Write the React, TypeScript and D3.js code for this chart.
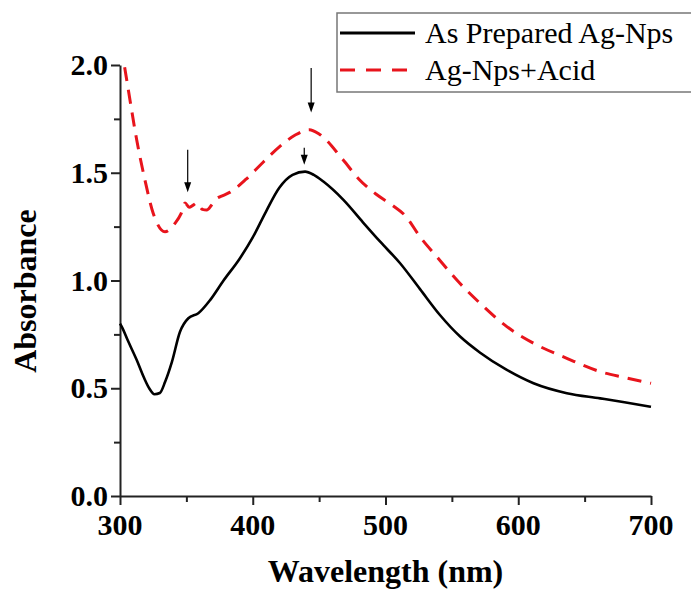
import React, { useRef, useEffect } from "react";
import * as d3 from "d3";

// wavelength (nm) / absorbance
const preparedWl = [300, 301.3, 306, 312.6, 318, 322, 326, 330, 334, 339, 345.2, 351.5, 359, 368, 378, 390, 400, 410, 420, 430, 439.4, 446, 453.2, 468.3, 483, 496, 511, 526, 541, 556.2, 571.3, 591.4, 611.5, 636.6, 661.7, 680, 700];
const preparedAbs = [0.8, 0.786, 0.72, 0.631, 0.55, 0.5, 0.472, 0.478, 0.53, 0.62, 0.762, 0.825, 0.848, 0.91, 1.0, 1.1, 1.2, 1.32, 1.43, 1.49, 1.505, 1.49, 1.459, 1.374, 1.27, 1.18, 1.08, 0.96, 0.84, 0.74, 0.665, 0.585, 0.523, 0.477, 0.453, 0.435, 0.414];

const acidWl = [303.5, 306.3, 312.6, 318.8, 325, 333.9, 341.4, 346, 349, 352, 355.2, 358, 362, 365.3, 369, 372.9, 376, 383, 395, 408, 420, 432, 442.6, 450, 468, 480, 493, 505, 515, 526, 538.7, 556, 571.3, 591.4, 611.5, 636.6, 661.7, 680, 700];
const acidAbs = [1.99, 1.884, 1.652, 1.466, 1.312, 1.226, 1.265, 1.31, 1.36, 1.34, 1.35, 1.36, 1.33, 1.327, 1.35, 1.381, 1.39, 1.41, 1.47, 1.55, 1.62, 1.675, 1.70, 1.68, 1.56, 1.47, 1.40, 1.35, 1.30, 1.203, 1.11, 0.987, 0.894, 0.786, 0.709, 0.639, 0.577, 0.55, 0.523];

// annotation arrows: wavelength, tail absorbance, head absorbance
const arrowWl = [351, 444, 438.8];
const arrowFrom = [1.607, 1.986, 1.616];
const arrowTo = [1.41, 1.78, 1.537];

const xTicks = [300, 400, 500, 600, 700];
const yTicks = [0.0, 0.5, 1.0, 1.5, 2.0];
const seriesNames = ["As Prepared Ag-Nps", "Ag-Nps+Acid"];

function App() {
  const svgRef = useRef<SVGSVGElement>(null);

  useEffect(() => {
    const width = 691;
    const height = 592;
    const margin = { top: 65, right: 40, bottom: 96, left: 120 };

    const svg = d3.select(svgRef.current);
    svg.selectAll("*").remove();
    svg.attr("width", width).attr("height", height);

    const x = d3.scaleLinear().domain([300, 700]).range([margin.left, width - margin.right]);
    const y = d3.scaleLinear().domain([0, 2]).range([height - margin.bottom, margin.top]);

    const font = "'Liberation Serif', 'Times New Roman', serif";

    // x axis
    const xAxis = svg.append("g")
      .attr("transform", `translate(0,${y(0)})`)
      .call(d3.axisBottom(x).tickValues(d3.range(300, 701, 50)).tickSize(0).tickFormat(() => ""));
    xAxis.select(".domain").attr("stroke", "#222").attr("stroke-width", 2);
    xAxis.selectAll(".tick").append("line")
      .attr("y2", (d: any) => (d % 100 === 0 ? 9 : 6))
      .attr("stroke", "#222").attr("stroke-width", 2);
    svg.append("g").selectAll("text").data(xTicks).enter().append("text")
      .attr("x", d => x(d)).attr("y", y(0) + 39)
      .attr("text-anchor", "middle")
      .style("font-family", font).style("font-weight", "bold").style("font-size", "30px")
      .text(d => d);

    // y axis
    const yAxis = svg.append("g")
      .attr("transform", `translate(${margin.left},0)`)
      .call(d3.axisLeft(y).tickValues(d3.range(0, 2.01, 0.25)).tickSize(0).tickFormat(() => ""));
    yAxis.select(".domain").attr("stroke", "#222").attr("stroke-width", 2);
    yAxis.selectAll(".tick").append("line")
      .attr("x2", (d: any) => (Math.abs((d * 2) - Math.round(d * 2)) < 1e-6 ? -9 : -6))
      .attr("stroke", "#222").attr("stroke-width", 2);
    svg.append("g").selectAll("text").data(yTicks).enter().append("text")
      .attr("x", margin.left - 12).attr("y", d => y(d) + 10)
      .attr("text-anchor", "end")
      .style("font-family", font).style("font-weight", "bold").style("font-size", "30px")
      .text(d => d.toFixed(1));

    // axis titles
    svg.append("text")
      .attr("x", (x(300) + x(700)) / 2).attr("y", 582)
      .attr("text-anchor", "middle")
      .style("font-family", font).style("font-weight", "bold").style("font-size", "32px")
      .text("Wavelength (nm)");
    svg.append("text")
      .attr("transform", `translate(36,291) rotate(-90)`)
      .attr("text-anchor", "middle")
      .style("font-family", font).style("font-weight", "bold").style("font-size", "32px")
      .text("Absorbance");

    const line = d3.line<[number, number]>()
      .x(d => x(d[0]))
      .y(d => y(d[1]))
      .curve(d3.curveMonotoneX);

    svg.append("path")
      .datum(preparedWl.map((w, i) => [w, preparedAbs[i]] as [number, number]))
      .attr("d", line)
      .attr("fill", "none")
      .attr("stroke", "#000")
      .attr("stroke-width", 2.6)
      .attr("stroke-linejoin", "round");

    svg.append("path")
      .datum(acidWl.map((w, i) => [w, acidAbs[i]] as [number, number]))
      .attr("d", line)
      .attr("fill", "none")
      .attr("stroke", "#e8141c")
      .attr("stroke-width", 3)
      .attr("stroke-dasharray", "14,9");

    // arrows
    arrowWl.forEach((w, i) => {
      const x0 = x(w);
      const y0 = y(arrowFrom[i]);
      const y1 = y(arrowTo[i]);
      svg.append("line")
        .attr("x1", x0).attr("x2", x0)
        .attr("y1", y0).attr("y2", y1 - 8)
        .attr("stroke", "#000").attr("stroke-width", 1.2);
      svg.append("path")
        .attr("d", `M${x0 - 3.5},${y1 - 10}L${x0 + 3.5},${y1 - 10}L${x0},${y1}Z`)
        .attr("fill", "#000");
    });

    // legend
    const lg = svg.append("g");
    lg.append("rect")
      .attr("x", 337).attr("y", 13)
      .attr("width", 370).attr("height", 79)
      .attr("fill", "white")
      .attr("stroke", "#777").attr("stroke-width", 1.5);
    const rows = [33, 70];
    seriesNames.forEach((name, i) => {
      lg.append("line")
        .attr("x1", 340).attr("x2", 415)
        .attr("y1", rows[i]).attr("y2", rows[i])
        .attr("stroke", i === 0 ? "#000" : "#e8141c")
        .attr("stroke-width", i === 0 ? 3 : 3.2)
        .attr("stroke-dasharray", i === 0 ? null : "15,11");
      lg.append("text")
        .attr("x", 425).attr("y", rows[i] + 10)
        .style("font-family", font).style("font-size", "30px")
        .text(name);
    });
  }, []);

  return (
    <div style={{ position: "absolute", left: 0, top: 0 }}>
      <svg ref={svgRef}></svg>
    </div>
  );
}

export default App;
